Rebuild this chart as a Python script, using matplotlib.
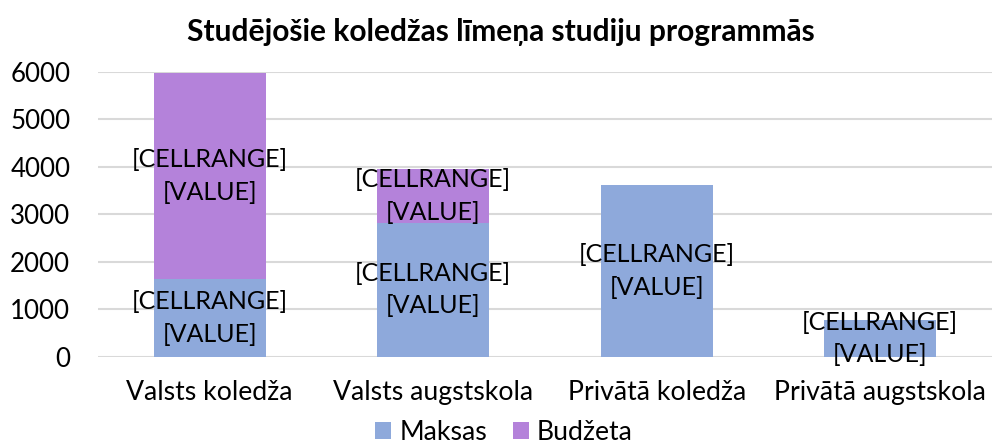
import matplotlib
matplotlib.use("Agg")
import matplotlib.pyplot as plt
import numpy as np

plt.rcParams['font.family'] = ['Lato', 'DejaVu Sans']

categories = ["Valsts koledža", "Valsts augstskola", "Privātā koledža", "Privātā augstskola"]
maksas = [1630, 2820, 3615, 770]
budzeta = [4350, 1130, 0, 0]
yticks = [0, 1000, 2000, 3000, 4000, 5000, 6000]
title = "Studējošie koledžas līmeņa studiju programmās"
label_text = "[CELLRANGE]\n[VALUE]"

c_blue = "#8EA9DB"
c_purple = "#B482DA"

fig = plt.figure(figsize=(9.92, 4.43), dpi=100)
ax = fig.add_axes([98/992, 1-356.7/443, (992-98)/992, 285/443])

x = np.arange(len(categories))
b1 = ax.bar(x, maksas, width=0.5, color=c_blue, label="Maksas", zorder=3)
b2 = ax.bar(x, budzeta, width=0.5, bottom=maksas, color=c_purple, label="Budžeta", zorder=3)

for i in range(len(categories)):
    if maksas[i] > 0:
        ax.text(x[i], maksas[i]/2, label_text, ha='center', va='center',
                fontsize=18, linespacing=1.5, zorder=4)
    if budzeta[i] > 0:
        ax.text(x[i], maksas[i] + budzeta[i]/2, label_text, ha='center', va='center',
                fontsize=18, linespacing=1.5, zorder=4)

ax.set_xlim(-0.5, len(categories)-0.5)
ax.set_ylim(0, 6000)
ax.set_yticks(yticks)
ax.set_yticklabels([str(t) for t in yticks], fontsize=18.6)
ax.set_xticks(x)
ax.set_xticklabels(categories, fontsize=19.2)
ax.tick_params(axis='both', length=0)
ax.tick_params(axis='y', pad=20)
ax.tick_params(axis='x', pad=17)
ax.yaxis.grid(True, color="#D9D9D9", linewidth=1.5, zorder=0)
for s in ax.spines.values():
    s.set_visible(False)
ax.set_axisbelow(True)

fig.text(0.505, 1-32/443, title, ha='center', va='center', fontsize=21.5, fontweight='bold')

leg = fig.legend(handles=[b1, b2], loc='center', bbox_to_anchor=(0.508, 1-432/443),
                 ncol=2, frameon=False, fontsize=19.2, handlelength=0.6, handleheight=0.6,
                 handletextpad=0.3, columnspacing=0.95, borderpad=0)

fig.savefig("out.png", dpi=100)
